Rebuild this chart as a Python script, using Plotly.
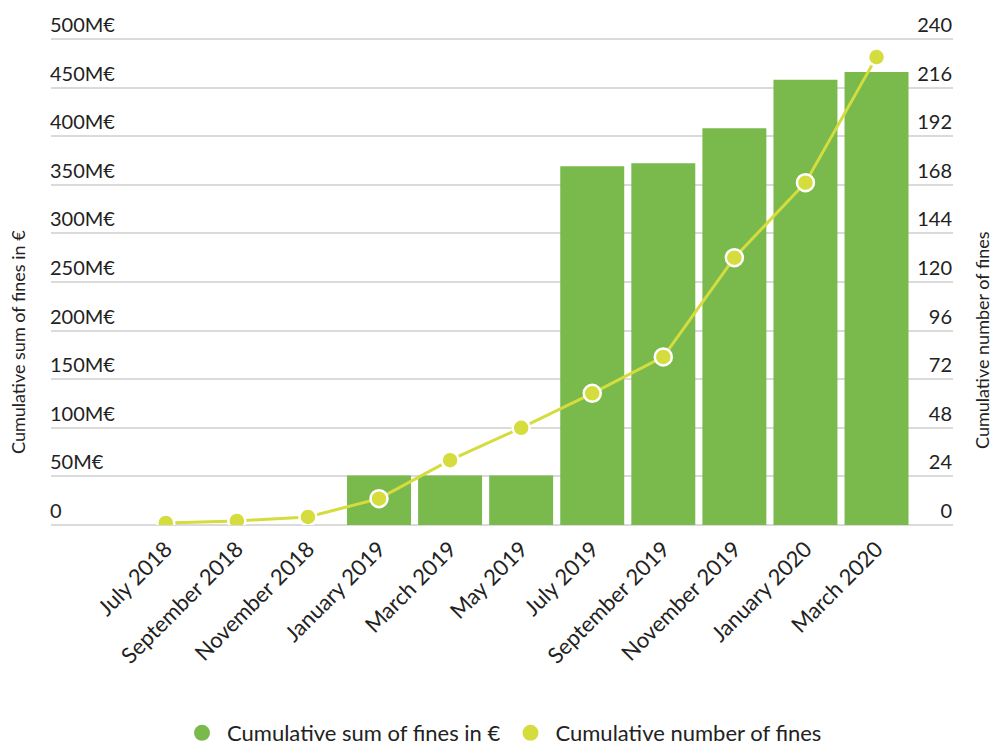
import plotly.graph_objects as go

months = ["July 2018", "September 2018", "November 2018", "January 2019", "March 2019",
          "May 2019", "July 2019", "September 2019", "November 2019", "January 2020", "March 2020"]
sum_fines_meur = [None, None, None, 51, 51, 51, 369, 372, 408, 458, 466]
num_fines = [1, 2, 4, 13, 32, 48, 65, 83, 132, 169, 231]

left_ticks = [0, 50, 100, 150, 200, 250, 300, 350, 400, 450, 500]
left_ticktext = ["0", "50M€", "100M€", "150M€", "200M€", "250M€", "300M€", "350M€", "400M€", "450M€", "500M€"]
right_ticks = [0, 24, 48, 72, 96, 120, 144, 168, 192, 216, 240]

GREEN = "#7aba4d"
YELLOW = "#d5dc3e"
TEXT = "#222222"
GRID = "#dadada"
FONT = "Lato"

# plot area geometry (px)
L, R, T, B = 51, 953, 0, 525
W, H = R - L, B - T
Y1_MAX = 540
Y2_MAX = 240 * Y1_MAX / 500

fig = go.Figure()
fig.add_trace(go.Bar(
    x=months, y=sum_fines_meur, marker=dict(color=GREEN, line=dict(width=0)),
    showlegend=False, yaxis="y"))
fig.add_trace(go.Scatter(
    x=months, y=num_fines, mode="lines+markers", yaxis="y2",
    line=dict(color=YELLOW, width=3),
    marker=dict(color=YELLOW, size=17, line=dict(color="white", width=2.5)),
    showlegend=False))
# legend entries (circle symbols)
fig.add_trace(go.Scatter(x=[None], y=[None], mode="markers", name="Cumulative sum of fines in €",
                         marker=dict(color=GREEN, size=24, symbol="circle")))
fig.add_trace(go.Scatter(x=[None], y=[None], mode="markers", name="Cumulative number of fines",
                         marker=dict(color=YELLOW, size=24, symbol="circle"), yaxis="y2"))

fig.update_layout(
    width=992, height=745,
    margin=dict(l=L, r=992 - R, t=T, b=745 - B, autoexpand=False),
    plot_bgcolor="white", paper_bgcolor="white",
    font=dict(family=FONT, color=TEXT, size=21),
    bargap=0.1,
    xaxis=dict(type="category", range=[-1.615, 11.076], tickangle=-45, automargin=False,
               showgrid=False, zeroline=False, showline=False, ticks="",
               ticklabelstandoff=6,
               tickfont=dict(size=22, color=TEXT)),
    yaxis=dict(range=[0, Y1_MAX], tickvals=left_ticks, ticktext=left_ticktext, automargin=False,
               showgrid=True, gridcolor=GRID, gridwidth=2,
               zeroline=True, zerolinecolor=GRID, zerolinewidth=2,
               ticklabelposition="inside top", ticklabelstandoff=-4, ticks="", showline=False,
               tickfont=dict(size=20, color=TEXT)),
    yaxis2=dict(range=[0, Y2_MAX], tickvals=right_ticks, overlaying="y", side="right", automargin=False,
                showgrid=False, zeroline=False, ticklabelposition="inside top", ticklabelstandoff=-2,
                ticks="", showline=False, tickfont=dict(size=20, color=TEXT)),
    legend=dict(orientation="h", x=0.5, xanchor="center", y=(B - 733) / H, yanchor="middle",
                font=dict(size=22, color=TEXT), itemsizing="trace", itemwidth=40),
    annotations=[
        dict(text="Cumulative sum of fines in €", xref="paper", yref="paper",
             x=(18 - L) / W, y=(B - 342) / H, textangle=-90, showarrow=False,
             font=dict(size=18, color=TEXT), xanchor="center", yanchor="middle"),
        dict(text="Cumulative number of fines", xref="paper", yref="paper",
             x=(982 - L) / W, y=(B - 340) / H, textangle=-90, showarrow=False,
             font=dict(size=18, color=TEXT), xanchor="center", yanchor="middle"),
    ],
)

fig.write_html("out.html", config={"displayModeBar": False},
               post_script="document.body.style.margin='0';document.body.style.overflow='hidden';")
